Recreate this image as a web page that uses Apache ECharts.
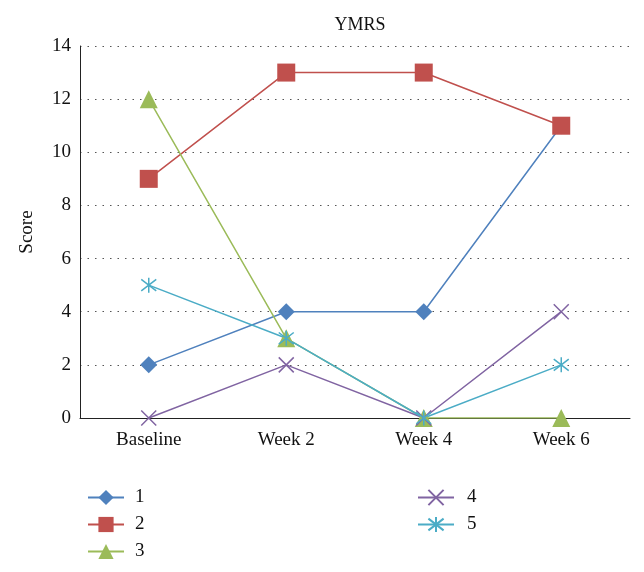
<!DOCTYPE html>
<html>
<head>
<meta charset="utf-8">
<script src="https://cdn.jsdelivr.net/npm/echarts@6/dist/echarts.min.js"></script>
<style>html,body{margin:0;padding:0;background:#fff}#c{width:644px;height:572px}</style>
</head>
<body>
<div id="c"></div>
<script>
const categories = ['Baseline', 'Week 2', 'Week 4', 'Week 6'];
const seriesNames = ['1', '2', '3', '4', '5'];
const s1 = [2, 4, 4, 11];
const s2 = [9, 13, 13, 11];
const s3 = [12, 3, 0, 0];
const s4 = [0, 2, 0, 4];
const s5 = [5, 3, 0, 2];
const yTicks = [0, 2, 4, 6, 8, 10, 12, 14];

const FONT = 'Liberation Serif';
const colors = ['#4f81bd', '#c0504d', '#9bbb59', '#8064a2', '#4bacc6'];
const xPath = 'path://M0,0L10,10M10,0L0,10';
const starPath = 'path://M0,0L10,10M10,0L0,10M5,-1.5L5,11.5';

function mk(i, data, symbol, size, stroked) {
  return {
    name: seriesNames[i], type: 'line', data: data,
    symbol: symbol, symbolSize: size, showAllSymbol: true,
    lineStyle: { color: colors[i], width: 1.5 },
    itemStyle: stroked ? { color: 'rgba(0,0,0,0)', borderColor: colors[i], borderWidth: 1.5 } : { color: colors[i], borderWidth: 0 },
    emphasis: { disabled: true },
    animation: false
  };
}

const legendText = { fontFamily: FONT, fontSize: 19, color: '#111', padding: [0, 0, 0, 6] };

const chart = echarts.init(document.getElementById('c'));
chart.setOption({
  animation: false,
  title: { text: 'YMRS', left: 355, textAlign: 'center', top: 11, textStyle: { fontFamily: FONT, fontSize: 18, fontWeight: 'normal', color: '#111' } },
  grid: { left: 80, right: 14, top: 46, bottom: 154 },
  legend: [
    { data: ['1', '2', '3'], orient: 'vertical', left: 82, top: 483, itemWidth: 36, itemHeight: 19, itemGap: 8,
      textStyle: legendText },
    { data: ['4', '5'], orient: 'vertical', left: 412, top: 483, itemWidth: 36, itemHeight: 19, itemGap: 8,
      textStyle: Object.assign({}, legendText, { padding: [0, 0, 0, 8] }) }
  ],
  xAxis: {
    type: 'category', data: categories, boundaryGap: true,
    axisLine: { lineStyle: { color: '#222', width: 1 } },
    axisTick: { show: false },
    axisLabel: { fontFamily: FONT, fontSize: 19, color: '#111', margin: 13 }
  },
  yAxis: {
    type: 'value', min: 0, max: 14, interval: 2,
    name: 'Score', nameLocation: 'middle', nameGap: 43,
    nameTextStyle: { fontFamily: FONT, fontSize: 19, color: '#111' },
    axisLine: { show: true, lineStyle: { color: '#222', width: 1 } },
    axisTick: { show: false },
    axisLabel: { fontFamily: FONT, fontSize: 19, color: '#111', margin: 9,
      formatter: v => yTicks.includes(v) ? String(v) : '' },
    splitLine: { lineStyle: { color: '#555', width: 1, type: [1.5, 6] } }
  },
  series: [
    mk(0, s1, 'diamond', 17, false),
    mk(1, s2, 'rect', 18, false),
    mk(2, s3, 'triangle', 18, false),
    mk(3, s4, xPath, 15, true),
    mk(4, s5, starPath, 15, true)
  ]
});
</script>
</body>
</html>
